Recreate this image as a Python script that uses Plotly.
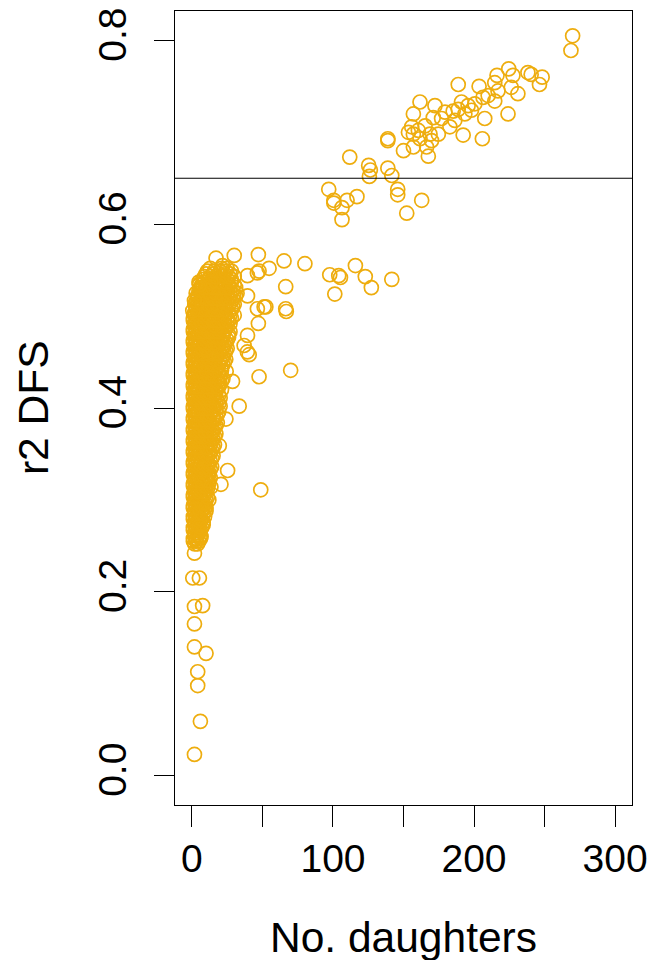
import plotly.graph_objects as go

# ---- data ----
top_daughters = [269.9, 268.7, 224.6, 216.3, 227.6, 238.2, 240.5, 248.3, 246.4, 188.8,
                 203.6, 214.7, 226.4, 231.1, 217.0, 210.0, 206.4, 214.7, 200.6, 195.8,
                 191.1, 188.8, 185.2, 179.4, 172.3, 161.7, 157.0, 171.1, 177.0, 186.4,
                 182.9, 193.5, 198.2, 207.6, 224.1, 192.3, 205.9, 155.8, 153.5, 157.0,
                 160.5, 165.3, 168.8, 174.7, 169.9, 161.7, 138.9, 138.9, 150.0, 166.4,
                 167.6, 157.0, 111.9, 125.3, 126.5, 138.9, 141.7, 125.8]
top_r2 = [0.805, 0.789, 0.769, 0.762, 0.762, 0.765, 0.763, 0.760, 0.752, 0.752,
          0.750, 0.754, 0.749, 0.742, 0.745, 0.740, 0.738, 0.734, 0.731, 0.729,
          0.733, 0.725, 0.723, 0.722, 0.729, 0.733, 0.720, 0.716, 0.715, 0.713,
          0.706, 0.720, 0.724, 0.715, 0.720, 0.697, 0.693, 0.706, 0.700, 0.698,
          0.702, 0.707, 0.698, 0.698, 0.691, 0.693, 0.693, 0.691, 0.680, 0.684,
          0.674, 0.684, 0.673, 0.664, 0.659, 0.661, 0.653, 0.652]

near_daughters = [97.0, 100.6, 110.0, 117.0, 145.9, 145.9, 162.9, 100.6, 106.4, 106.4, 152.3]
near_r2 = [0.638, 0.626, 0.626, 0.630, 0.638, 0.632, 0.626, 0.623, 0.618, 0.605, 0.612]

mid_daughters = [97.7, 104.1, 105.3, 115.9, 122.9, 127.2, 141.7, 101.3, 80.1, 65.3,
                 66.5, 47.1, 47.6, 54.7, 30.0, 17.1, 5.3, 52.4, 66.5]
mid_r2 = [0.545, 0.544, 0.542, 0.555, 0.543, 0.531, 0.540, 0.524, 0.557, 0.560,
          0.532, 0.567, 0.549, 0.552, 0.566, 0.563, 0.534, 0.510, 0.508]

edge_daughters = [46.4, 21.7, 5.3, 13.5, 39.4, 1.8, 0.6, 39.4, 51.2, 46.4,
                  66.9, 47.1, 39.4, 40.6, 37.0, 70.0, 47.6, 33.5, 28.8, 24.1,
                  25.3, 19.4, 20.6, 13.5, 48.8, 10.0, 39.3, 24.3]
edge_r2 = [0.547, 0.555, 0.535, 0.537, 0.544, 0.517, 0.506, 0.522, 0.510, 0.508,
           0.505, 0.492, 0.479, 0.458, 0.468, 0.441, 0.434, 0.402, 0.429, 0.388,
           0.332, 0.359, 0.317, 0.314, 0.311, 0.292, 0.461, 0.440]

tail_daughters = [1.8, 6.0, 4.1, 4.1, 10.0, 1.8, 1.8, 1.8, 7.6, 0.6, 5.3, 1.8, 6.5, 5.3]
tail_r2 = [0.023, 0.059, 0.098, 0.113, 0.133, 0.140, 0.165, 0.184, 0.185, 0.215,
           0.215, 0.242, 0.260, 0.271]

# dense core: r2 level and the daughter counts observed at that level
core_r2_levels = [0.252, 0.258, 0.264, 0.270, 0.276, 0.282, 0.288, 0.294, 0.300, 0.306,
                  0.312, 0.318, 0.324, 0.330, 0.336, 0.342, 0.348, 0.354, 0.360, 0.366,
                  0.372, 0.378, 0.384, 0.390, 0.396, 0.402, 0.408, 0.414, 0.420, 0.426,
                  0.432, 0.438, 0.444, 0.450, 0.456, 0.462, 0.468, 0.474, 0.480, 0.486,
                  0.492, 0.498, 0.504, 0.510, 0.516, 0.522, 0.528, 0.534, 0.540, 0.546,
                  0.552]
core_daughters = [
    [2, 4], [1, 3, 6], [2, 4, 5], [1, 3, 7], [2, 4, 6, 8], [1, 3, 5, 9],
    [2, 4, 7, 10], [1, 3, 6, 8], [2, 5, 7, 10, 12], [1, 3, 6, 9], [2, 4, 7, 11],
    [1, 3, 5, 8, 12], [2, 4, 7, 10, 13], [1, 3, 6, 9, 12], [2, 5, 8, 11, 14],
    [1, 3, 6, 9, 13], [2, 4, 7, 10, 15], [1, 3, 5, 8, 12, 14], [2, 4, 7, 10, 13, 16],
    [1, 3, 6, 9, 11, 15], [2, 5, 7, 10, 14, 17], [1, 3, 6, 8, 12, 16],
    [2, 4, 7, 10, 13, 18], [1, 3, 5, 9, 11, 15, 17], [2, 4, 7, 10, 14, 19],
    [1, 3, 6, 8, 12, 16, 20], [2, 5, 7, 11, 13, 18], [1, 3, 6, 9, 12, 15, 19],
    [2, 4, 8, 10, 14, 17, 21], [1, 3, 6, 9, 13, 16, 20], [2, 5, 7, 11, 14, 18, 22],
    [1, 3, 6, 9, 12, 15, 19], [2, 4, 8, 10, 13, 17, 21], [1, 3, 5, 9, 12, 16, 20, 23],
    [2, 4, 7, 11, 14, 18, 22], [1, 3, 6, 9, 13, 17, 21, 24], [2, 5, 8, 11, 15, 19, 23],
    [1, 3, 6, 10, 13, 16, 20, 25], [2, 4, 7, 11, 14, 18, 22, 26],
    [1, 3, 6, 9, 12, 17, 21, 24], [2, 5, 8, 11, 15, 19, 23, 27],
    [1, 4, 7, 10, 13, 17, 21, 25, 28], [2, 4, 6, 9, 14, 18, 22, 26],
    [3, 5, 8, 12, 16, 20, 24, 29], [3, 6, 10, 13, 17, 21, 25, 28],
    [4, 7, 11, 15, 19, 23, 27, 31], [5, 9, 12, 16, 20, 24, 29],
    [7, 10, 14, 18, 22, 26, 30], [8, 12, 16, 20, 25, 28], [10, 15, 19, 23, 27],
    [13, 21, 25]]

core2_r2_levels = [0.255, 0.261, 0.267, 0.273, 0.279, 0.285, 0.291, 0.297, 0.303, 0.309,
                   0.315, 0.321, 0.327, 0.333, 0.339, 0.345, 0.351, 0.357, 0.363, 0.369,
                   0.375, 0.381, 0.387, 0.393, 0.399, 0.405, 0.411, 0.417, 0.423, 0.429,
                   0.435, 0.441, 0.447, 0.453, 0.459, 0.465, 0.471, 0.477, 0.483, 0.489,
                   0.495, 0.501, 0.507, 0.513, 0.519, 0.525, 0.531, 0.537, 0.543, 0.549]
core2_daughters = [
    [1, 3, 5], [2, 4, 6], [1, 3, 5, 6], [2, 4, 5, 8], [1, 3, 6, 7], [2, 4, 6, 8],
    [1, 3, 5, 8, 9], [2, 4, 7, 9], [1, 3, 6, 8, 11], [2, 4, 5, 8, 10],
    [1, 3, 6, 9, 10], [2, 4, 7, 10, 11], [1, 3, 5, 8, 11, 12], [2, 4, 7, 10, 13],
    [1, 3, 6, 9, 12], [2, 4, 7, 11, 14], [1, 3, 6, 9, 13], [2, 4, 6, 10, 11, 15],
    [1, 3, 5, 8, 12, 14], [2, 4, 7, 10, 13, 16], [1, 3, 6, 9, 12, 15],
    [2, 5, 8, 11, 14, 17], [1, 3, 6, 9, 12, 16], [2, 4, 7, 10, 13, 18],
    [1, 3, 5, 8, 12, 15, 17], [2, 4, 7, 9, 14, 17, 19], [1, 3, 6, 9, 12, 16, 20],
    [2, 4, 7, 10, 13, 17], [1, 3, 5, 8, 11, 15, 18, 19], [2, 4, 7, 10, 14, 18, 21],
    [1, 3, 6, 9, 12, 16, 20], [2, 4, 7, 10, 14, 17, 21], [1, 3, 6, 9, 11, 15, 19, 22],
    [2, 4, 7, 10, 13, 17, 21, 24], [1, 3, 5, 8, 12, 15, 19, 23],
    [2, 4, 7, 10, 14, 18, 22, 25], [1, 3, 6, 9, 12, 16, 21, 24],
    [2, 4, 8, 11, 15, 18, 22, 26], [1, 3, 5, 9, 12, 16, 19, 23, 27],
    [2, 4, 7, 10, 13, 17, 21, 25], [1, 3, 6, 9, 12, 15, 19, 23, 26],
    [2, 5, 8, 11, 15, 19, 23, 27, 30], [3, 6, 10, 12, 16, 20, 24, 28],
    [2, 4, 7, 11, 14, 18, 22, 26, 30], [4, 8, 11, 15, 19, 23, 26, 29],
    [3, 6, 9, 13, 17, 21, 25, 28, 32], [6, 8, 12, 15, 19, 23, 27, 31],
    [5, 9, 13, 17, 21, 24, 28], [9, 13, 17, 22, 26, 30], [11, 16, 20, 24, 28]]

threshold = 0.65
x_ticks = [0, 50, 100, 150, 200, 250, 300]
x_tick_text = ["0", "", "100", "", "200", "", "300"]
y_ticks = [0.0, 0.2, 0.4, 0.6, 0.8]
y_tick_text = ["0.0", "0.2", "0.4", "0.6", "0.8"]

# ---- assemble ----
xs, ys = [], []
for levels, rows in [(core_r2_levels, core_daughters), (core2_r2_levels, core2_daughters)]:
    for lvl, row in zip(levels, rows):
        for d in row:
            xs.append(d)
            ys.append(lvl)
for gx, gy in [(tail_daughters, tail_r2), (edge_daughters, edge_r2),
               (mid_daughters, mid_r2), (near_daughters, near_r2),
               (top_daughters, top_r2)]:
    xs.extend(gx)
    ys.extend(gy)

COL = "#EEAD0E"
FONT = "Liberation Sans, Arial, sans-serif"

fig = go.Figure()
fig.add_trace(go.Scatter(
    x=xs, y=ys, mode="markers",
    marker=dict(symbol="circle-open", size=14, color=COL,
                line=dict(color=COL, width=1.7)),
    showlegend=False, hoverinfo="skip"))

fig.add_shape(type="line", xref="paper", x0=0, x1=1, yref="y",
              y0=threshold, y1=threshold, line=dict(color="black", width=1.2))

axis_common = dict(showgrid=False, zeroline=False, showline=True, mirror=True,
                   linecolor="black", linewidth=1.2, ticks="outside",
                   tickcolor="black", tickwidth=1.2,
                   tickfont=dict(family=FONT, size=39, color="black"))

fig.update_xaxes(range=[-12, 312], tickvals=x_ticks, ticktext=x_tick_text,
                 ticklen=21, ticklabelstandoff=-2, **axis_common)
fig.update_yaxes(range=[-0.032, 0.832], tickvals=y_ticks, ticktext=y_tick_text,
                 ticklen=20, tickangle=-90, ticklabelstandoff=12, **axis_common)

fig.add_annotation(text="No. daughters", xref="paper", yref="paper",
                   x=0.5, y=-0.167, xanchor="center", yanchor="middle",
                   showarrow=False, font=dict(family=FONT, size=42.5, color="black"))
fig.add_annotation(text="r2 DFS", xref="paper", yref="paper",
                   x=-0.3105, y=0.5, xanchor="center", yanchor="middle",
                   textangle=-90, showarrow=False,
                   font=dict(family=FONT, size=42.5, color="black"))

fig.update_layout(width=656, height=960, plot_bgcolor="white", paper_bgcolor="white",
                  margin=dict(l=175, r=22, t=8, b=155))

fig.write_html("out.html", config={"displayModeBar": False},
               post_script="document.body.style.margin='0';")
